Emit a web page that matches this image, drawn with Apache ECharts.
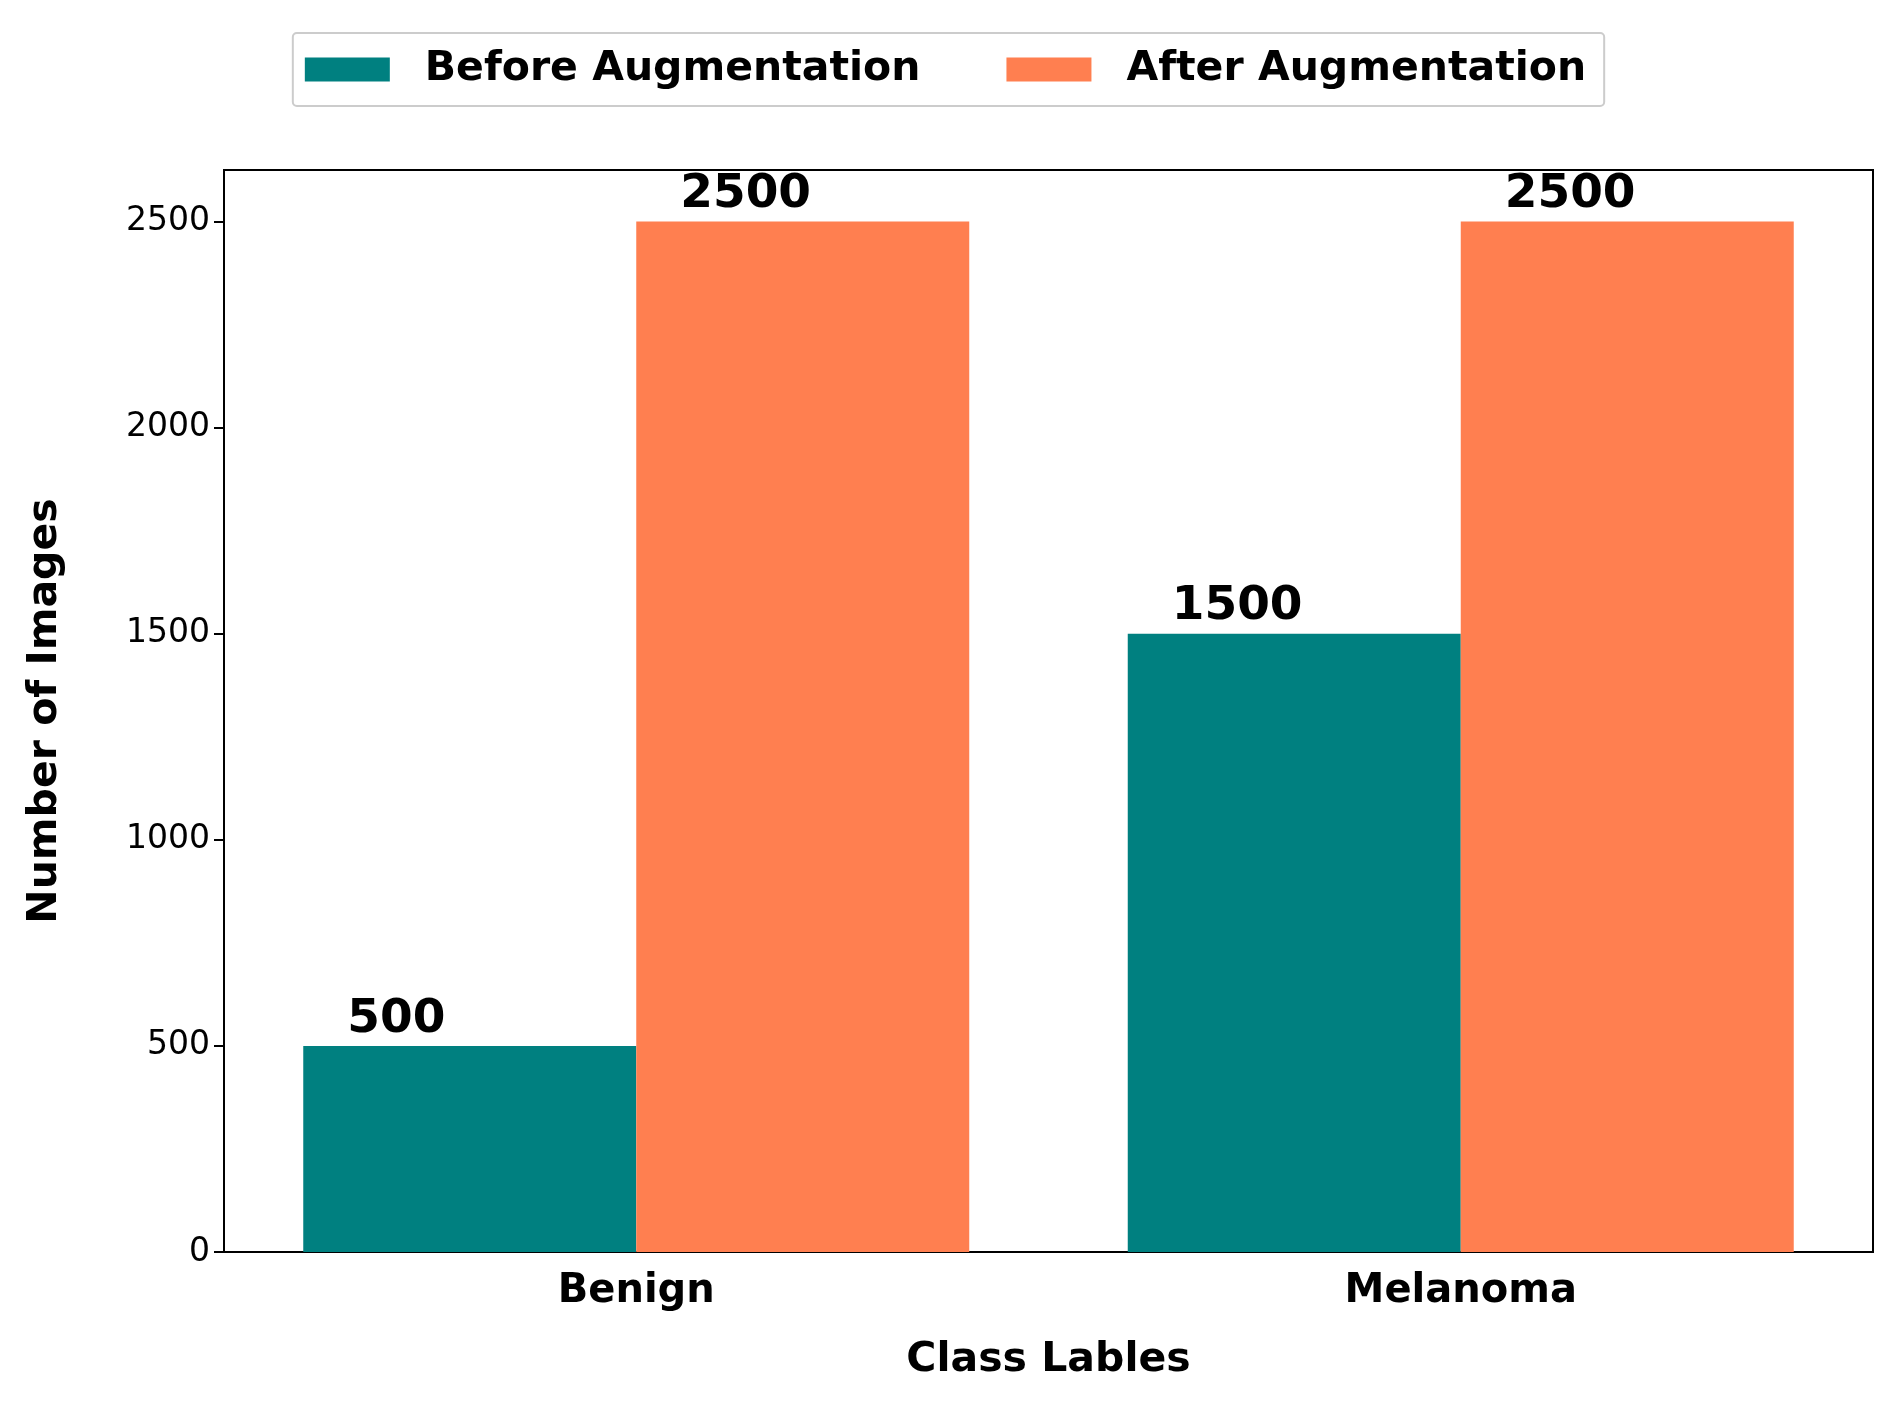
<!DOCTYPE html>
<html lang="en">
<head>
  <meta charset="utf-8" />
  <script src="https://cdn.jsdelivr.net/npm/echarts@6/dist/echarts.min.js"></script>
  <style>
    * { margin: 0; padding: 0; }
    #main { width: 1891px; height: 1405px; background: #fff; }
  </style>
</head>
<body>
  <div id="main"></div>
  <script>
    const categories = ["Benign", "Melanoma"];
    const beforeValues = [500, 1500];
    const afterValues = [2500, 2500];
    const font = "DejaVu Sans";

    const chart = echarts.init(document.getElementById("main"));

    const label = {
      show: true,
      position: [44, -50],
      fontFamily: font,
      fontWeight: "bold",
      fontSize: 47,
      color: "#000",
      formatter: (p) => String(p.value),
    };

    chart.setOption({
      animation: false,
      textStyle: { fontFamily: font },
      legend: {
        top: 33,
        left: "center",
        padding: [16, 18, 16, 12],
        borderColor: "#ccc",
        borderWidth: 2,
        borderRadius: 4,
        itemWidth: 85,
        itemHeight: 24,
        itemGap: 86,
        textStyle: { fontFamily: font, fontWeight: "bold", fontSize: 41, color: "#000", padding: [0, 0, 0, 30] },
        data: [
          { name: "Before Augmentation", icon: "rect" },
          { name: "After Augmentation", icon: "rect" },
        ],
      },
      grid: { left: 224, right: 18, top: 170, bottom: 153 },
      xAxis: {
        type: "category",
        data: categories,
        name: "Class Lables",
        nameLocation: "middle",
        nameGap: 88,
        nameTextStyle: { fontFamily: font, fontWeight: "bold", fontSize: 41, color: "#000" },
        axisLine: { lineStyle: { color: "#000", width: 2 } },
        axisTick: { alignWithLabel: true, length: 10, lineStyle: { color: "#000", width: 2 }, interval: 0 },
        axisLabel: { fontFamily: font, fontWeight: "bold", fontSize: 40, color: "#000", margin: 20 },
        splitLine: { show: false },
      },
      yAxis: {
        type: "value",
        min: 0,
        max: 2625,
        interval: 500,
        name: "Number of Images",
        nameLocation: "middle",
        nameGap: 158,
        nameTextStyle: { fontFamily: font, fontWeight: "bold", fontSize: 41, color: "#000" },
        axisLine: { show: true, lineStyle: { color: "#000", width: 2 } },
        axisTick: { show: true, length: 10, lineStyle: { color: "#000", width: 2 } },
        axisLabel: { fontFamily: font, fontSize: 33, color: "#000", margin: 14, showMaxLabel: false, formatter: (v) => String(v) },
        splitLine: { show: false },
      },
      series: [
        {
          name: "Before Augmentation",
          type: "bar",
          data: beforeValues,
          barWidth: 333,
          barGap: "0%",
          itemStyle: { color: "#008080" },
          label: label,
        },
        {
          name: "After Augmentation",
          type: "bar",
          data: afterValues,
          barWidth: 333,
          barGap: "0%",
          itemStyle: { color: "#FF7F50" },
          label: label,
        },
      ],
      graphic: [
        {
          type: "rect",
          shape: { x: 224, y: 170, width: 1649, height: 1082 },
          style: { fill: "none", stroke: "#000", lineWidth: 2 },
          silent: true,
        },
      ],
    });
  </script>
</body>
</html>
